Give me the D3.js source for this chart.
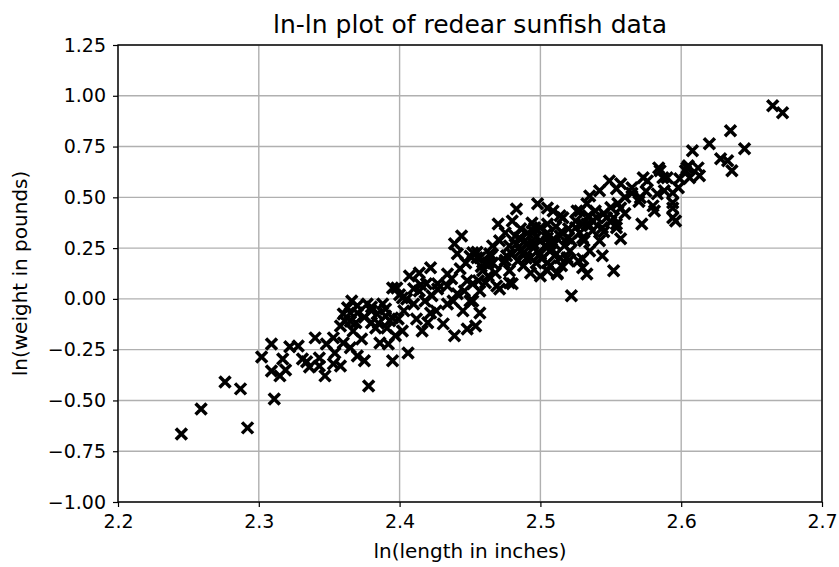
<!DOCTYPE html>
<html>
<head>
<meta charset="utf-8">
<script src="https://cdn.jsdelivr.net/npm/d3@7"></script>
<style>
  body { margin: 0; background: #fff; }
  text { font-family: "DejaVu Sans", sans-serif; fill: #000; }
</style>
</head>
<body>
<div id="chart"></div>
<script>
// ln(length), ln(weight) pairs
const lnLength = [
  2.245, 2.259, 2.276, 2.287, 2.292, 2.302, 2.309, 2.311, 2.315, 2.319, 2.309, 2.317, 2.322, 2.328, 2.334, 2.340,
  2.343, 2.347, 2.348, 2.353, 2.343, 2.353, 2.358, 2.354, 2.360, 2.358, 2.360, 2.366, 2.363, 2.367, 2.365, 2.375,
  2.378, 2.370, 2.377, 2.384, 2.383, 2.386, 2.392, 2.395, 2.388, 2.395, 2.393, 2.380, 2.331, 2.336, 2.361, 2.365,
  2.369, 2.373, 2.380, 2.390, 2.370,
  2.444, 2.439, 2.441, 2.452, 2.422, 2.414, 2.407, 2.434, 2.427, 2.419, 2.398, 2.395, 2.391, 2.406, 2.412, 2.422,
  2.431, 2.439, 2.448, 2.454, 2.445, 2.452, 2.457, 2.441, 2.434, 2.410, 2.402, 2.457, 2.459, 2.448, 2.414, 2.418,
  2.423, 2.427, 2.434, 2.437, 2.443, 2.447, 2.403, 2.399, 2.402, 2.397, 2.416, 2.420, 2.426, 2.446, 2.461, 2.463,
  2.470, 2.483, 2.480, 2.498, 2.509, 2.486, 2.496, 2.505, 2.500, 2.495, 2.507, 2.512, 2.500, 2.505, 2.471, 2.478,
  2.488, 2.455, 2.466, 2.452, 2.438, 2.450, 2.457, 2.522, 2.483, 2.476, 2.493, 2.516, 2.528, 2.530, 2.519, 2.508,
  2.514, 2.520, 2.512, 2.507, 2.530, 2.533, 2.469, 2.480, 2.464, 2.500, 2.495,
  2.584, 2.573, 2.549, 2.554, 2.542, 2.535, 2.565, 2.571, 2.580, 2.588, 2.572, 2.557, 2.552, 2.530, 2.533,
  2.526, 2.514, 2.505, 2.537, 2.547, 2.557, 2.542, 2.535, 2.519, 2.507, 2.554, 2.557, 2.587, 2.599, 2.583, 2.594,
  2.581, 2.594, 2.596, 2.544, 2.552, 2.554, 2.544, 2.533, 2.604,
  2.665, 2.672, 2.635, 2.620, 2.645, 2.608, 2.628, 2.633, 2.636, 2.612, 2.603, 2.585, 2.590, 2.598, 2.576, 2.594,
  2.613, 2.606, 2.594, 2.605,
  2.471, 2.475, 2.478, 2.482, 2.486, 2.489, 2.491, 2.494, 2.497, 2.503, 2.505, 2.508, 2.511, 2.514, 2.517, 2.520,
  2.522, 2.525, 2.528, 2.531, 2.534, 2.537, 2.539, 2.474, 2.478, 2.484, 2.488, 2.493, 2.497, 2.501, 2.505, 2.510,
  2.515, 2.521, 2.527, 2.466, 2.463, 2.468, 2.456,
  2.485, 2.490, 2.495, 2.500, 2.505, 2.510, 2.515, 2.520, 2.525, 2.530, 2.535, 2.540, 2.545, 2.550, 2.555, 2.560,
  2.565, 2.570, 2.575, 2.550, 2.545, 2.560, 2.500, 2.490, 2.480, 2.475, 2.465, 2.455, 2.450, 2.458,
  2.370, 2.365, 2.375, 2.380, 2.385, 2.390, 2.400, 2.405, 2.410, 2.415
];
const lnWeight = [
  -0.665, -0.542, -0.409, -0.443, -0.635, -0.286, -0.222, -0.493, -0.379, -0.350, -0.355, -0.296, -0.236, -0.232, -0.310, -0.192,
  -0.291, -0.379, -0.222, -0.320, -0.330, -0.192, -0.330, -0.266, -0.217, -0.133, -0.074, -0.010, -0.044, -0.158, -0.241, -0.305,
  -0.429, -0.281, -0.025, -0.074, -0.143, -0.217, -0.222, -0.305, -0.025, 0.054, -0.108, -0.118, -0.296, -0.335, -0.108, -0.069,
  -0.118, -0.197, -0.059, -0.084, -0.034,
  0.310, 0.271, 0.222, 0.227, 0.153, 0.128, 0.113, 0.123, 0.074, 0.074, 0.054, -0.094, -0.143, -0.266, -0.099, -0.069,
  -0.123, -0.182, -0.148, -0.133, -0.059, -0.010, 0.039, 0.025, -0.025, -0.025, 0.005, 0.202, 0.138, 0.089, 0.039, -0.010,
  0.015, 0.049, 0.064, 0.099, 0.148, 0.177, -0.059, -0.099, -0.158, -0.182, -0.158, -0.118, -0.059, 0.039, 0.079, 0.113,
  0.369, 0.443, 0.384, 0.468, 0.433, 0.345, 0.350, 0.369, 0.286, 0.251, 0.236, 0.128, 0.113, 0.138, 0.049, 0.079,
  0.163, 0.202, 0.177, 0.074, -0.010, -0.010, -0.069, 0.015, 0.271, 0.212, 0.202, 0.399, 0.433, 0.369, 0.300, 0.246,
  0.202, 0.187, 0.123, 0.163, 0.197, 0.123, 0.064, 0.074, 0.222, 0.222, 0.271,
  0.645, 0.596, 0.581, 0.542, 0.532, 0.507, 0.547, 0.498, 0.458, 0.532, 0.369, 0.296, 0.138, 0.153, 0.468,
  0.433, 0.409, 0.448, 0.384, 0.399, 0.448, 0.286, 0.236, 0.202, 0.271, 0.369, 0.567, 0.596, 0.591, 0.517, 0.522,
  0.433, 0.448, 0.384, 0.212, 0.399, 0.350, 0.350, 0.369, 0.645,
  0.951, 0.916, 0.828, 0.764, 0.739, 0.729, 0.690, 0.680, 0.631, 0.645, 0.631, 0.631, 0.596, 0.547, 0.581, 0.473,
  0.606, 0.596, 0.399, 0.655,
  0.286, 0.325, 0.261, 0.310, 0.236, 0.286, 0.325, 0.374, 0.305, 0.261, 0.325, 0.286, 0.355, 0.310, 0.261, 0.345,
  0.286, 0.384, 0.325, 0.286, 0.409, 0.335, 0.433, 0.177, 0.138, 0.187, 0.227, 0.128, 0.177, 0.197, 0.177, 0.212,
  0.163, 0.236, 0.187, 0.261, 0.177, 0.128, 0.089,
  0.300, 0.270, 0.330, 0.350, 0.300, 0.270, 0.330, 0.300, 0.350, 0.300, 0.360, 0.400, 0.420, 0.450, 0.470, 0.500,
  0.520, 0.480, 0.530, 0.380, 0.330, 0.420, 0.220, 0.200, 0.220, 0.190, 0.210, 0.230, 0.210, 0.160,
  -0.070, -0.110, -0.090, -0.040, -0.120, -0.050, 0.020, 0.000, 0.050, 0.070
];
const xTicks = [2.2, 2.3, 2.4, 2.5, 2.6, 2.7];
const yTicks = [-1.00, -0.75, -0.50, -0.25, 0.00, 0.25, 0.50, 0.75, 1.00, 1.25];

const points = lnLength.map((d, i) => ({x: d, y: lnWeight[i]}));

const width = 839, height = 567;
const margin = {top: 45, right: 17, bottom: 65, left: 118};
const innerW = width - margin.left - margin.right;
const innerH = height - margin.top - margin.bottom;

const svg = d3.select("#chart").append("svg")
    .attr("width", width)
    .attr("height", height);

const g = svg.append("g")
    .attr("transform", `translate(${margin.left},${margin.top})`);

const x = d3.scaleLinear().domain([2.2, 2.7]).range([0, innerW]);
const y = d3.scaleLinear().domain([-1.0, 1.25]).range([innerH, 0]);

// grid
g.append("g").selectAll("line")
    .data(xTicks)
    .join("line")
    .attr("x1", d => x(d)).attr("x2", d => x(d))
    .attr("y1", 0).attr("y2", innerH)
    .attr("stroke", "#b0b0b0").attr("stroke-width", 1.4);

g.append("g").selectAll("line")
    .data(yTicks)
    .join("line")
    .attr("x1", 0).attr("x2", innerW)
    .attr("y1", d => y(d)).attr("y2", d => y(d))
    .attr("stroke", "#b0b0b0").attr("stroke-width", 1.4);

// axes
const xAxis = g.append("g")
    .attr("transform", `translate(0,${innerH})`)
    .call(d3.axisBottom(x).tickValues(xTicks).tickFormat(d3.format(".1f")).tickSize(5).tickPadding(8));

const yAxis = g.append("g")
    .call(d3.axisLeft(y).tickValues(yTicks).tickFormat(d3.format(".2f")).tickSize(5).tickPadding(7));

[xAxis, yAxis].forEach(a => {
    a.select(".domain").remove();
    a.selectAll("text").style("font-family", "DejaVu Sans").style("font-size", "19px");
    a.selectAll("line").attr("stroke", "#000").attr("stroke-width", 1.2);
});

// markers
const cross = "M-5.5,-5.5L5.5,5.5M-5.5,5.5L5.5,-5.5";
g.append("g").selectAll("path")
    .data(points)
    .join("path")
    .attr("d", cross)
    .attr("transform", d => `translate(${x(d.x)},${y(d.y)})`)
    .attr("stroke", "#000")
    .attr("stroke-width", 3.5)
    .attr("fill", "none");

// frame
g.append("rect")
    .attr("width", innerW).attr("height", innerH)
    .attr("fill", "none").attr("stroke", "#000").attr("stroke-width", 1.4);

// labels
svg.append("text")
    .attr("x", margin.left + innerW / 2).attr("y", 33)
    .attr("text-anchor", "middle")
    .style("font-size", "25px")
    .text("ln-ln plot of redear sunfish data");

svg.append("text")
    .attr("x", margin.left + innerW / 2).attr("y", 558)
    .attr("text-anchor", "middle")
    .style("font-size", "20px")
    .text("ln(length in inches)");

svg.append("text")
    .attr("transform", `translate(27,${margin.top + innerH / 2}) rotate(-90)`)
    .attr("text-anchor", "middle")
    .style("font-size", "20px")
    .text("ln(weight in pounds)");
</script>
</body>
</html>
